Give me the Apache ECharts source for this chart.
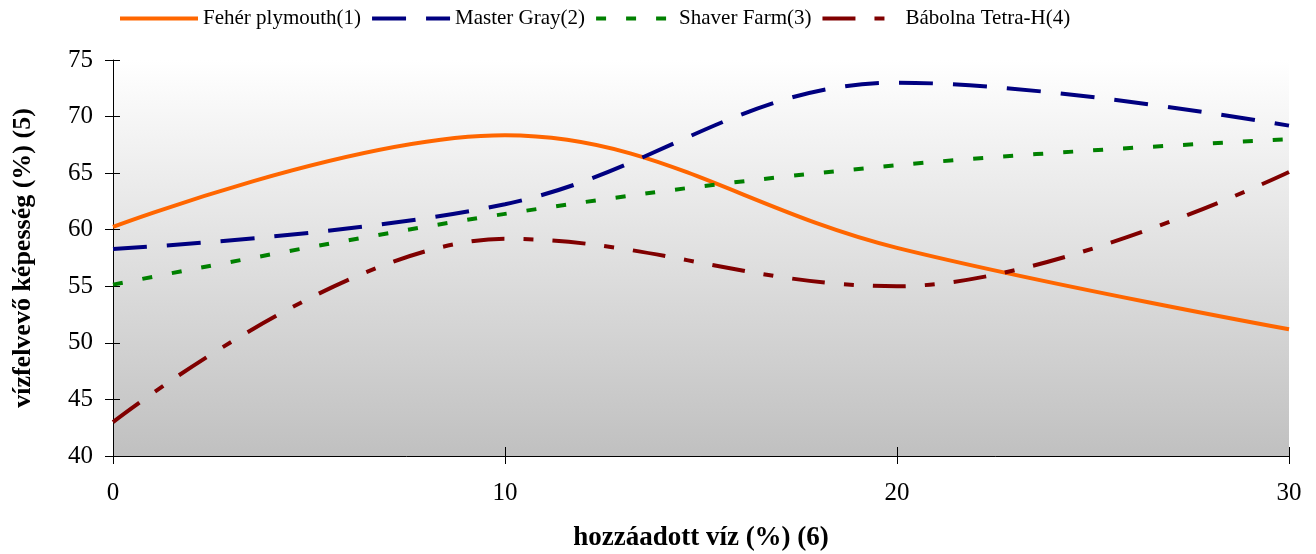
<!DOCTYPE html>
<html>
<head>
<meta charset="utf-8">
<script src="https://cdn.jsdelivr.net/npm/echarts@6/dist/echarts.min.js"></script>
<style>
html,body{margin:0;padding:0;background:#fff;}
#chart{width:1316px;height:554px;}
</style>
</head>
<body>
<div id="chart"></div>
<script>
const xValues = [0, 10, 20, 30];
const seriesNames = ['Fehér plymouth(1)', 'Master Gray(2)', 'Shaver Farm(3)', 'Bábolna Tetra-H(4)'];
const feherPlymouth = [60.25, 68.35, 58.4, 51.2];
const masterGray = [58.3, 62.25, 73.0, 69.2];
const shaverFarm = [55.15, 61.4, 65.7, 68.0];
const babolnaTetra = [43.0, 59.2, 55.0, 65.1];
const xTicks = [0, 10, 20, 30];
const yTicks = [40, 45, 50, 55, 60, 65, 70, 75];
const xTitle = 'hozzáadott víz (%) (6)';
const yTitle = 'vízfelvevő képesség (%) (5)';

const font = '"Liberation Serif", "Times New Roman", serif';
const pairs = v => xValues.map((x, i) => [x, v[i]]);

const styles = [
  {color: '#FF6600', type: 'solid'},
  {color: '#000080', type: [34, 20]},
  {color: '#008000', type: [10, 20]},
  {color: '#800000', type: [33, 19, 10, 19]}
];
const allData = [feherPlymouth, masterGray, shaverFarm, babolnaTetra];

const chart = echarts.init(document.getElementById('chart'), null, {renderer: 'canvas'});
chart.setOption({
  animation: false,
  textStyle: {fontFamily: font},
  legend: {
    left: 113, top: 3,
    itemWidth: 78, itemHeight: 14, itemGap: 9,
    textStyle: {fontFamily: font, fontSize: 21, color: '#000'},
    lineStyle: {width: 4},
    data: seriesNames
  },
  grid: {
    left: 113, right: 27, top: 60, bottom: 98,
    outerBoundsMode: 'none', containLabel: false,
    show: true, borderWidth: 0,
    backgroundColor: {type: 'linear', x: 0, y: 0, x2: 0, y2: 1,
      colorStops: [{offset: 0, color: '#ffffff'}, {offset: 1, color: '#c0c0c0'}]}
  },
  xAxis: [{
    type: 'value', min: xTicks[0], max: xTicks[xTicks.length - 1], interval: 10,
    name: xTitle, nameLocation: 'middle', nameGap: 69,
    nameTextStyle: {fontFamily: font, fontSize: 27, fontWeight: 'bold', color: '#000'},
    axisLine: {show: true, onZero: false, lineStyle: {color: '#000', width: 1}},
    axisTick: {show: true, inside: false, length: 8, lineStyle: {color: '#000'}},
    axisLabel: {fontFamily: font, fontSize: 25, color: '#000', margin: 25},
    splitLine: {show: false}
  }, {
    type: 'value', min: xTicks[0], max: xTicks[xTicks.length - 1], interval: 10, position: 'bottom',
    axisLine: {show: false},
    axisTick: {show: true, inside: true, length: 9, lineStyle: {color: '#000'}},
    axisLabel: {show: false}, splitLine: {show: false}
  }],
  yAxis: [{
    type: 'value', min: yTicks[0], max: yTicks[yTicks.length - 1], interval: 5,
    name: yTitle, nameLocation: 'middle', nameGap: 77, nameRotate: 90,
    nameTextStyle: {fontFamily: font, fontSize: 26, fontWeight: 'bold', color: '#000'},
    axisLine: {show: true, onZero: false, lineStyle: {color: '#000', width: 1}},
    axisTick: {show: true, inside: false, length: 8, lineStyle: {color: '#000'}},
    axisLabel: {fontFamily: font, fontSize: 25, color: '#000', margin: 20},
    splitLine: {show: false}
  }, {
    type: 'value', min: yTicks[0], max: yTicks[yTicks.length - 1], interval: 5, position: 'left',
    axisLine: {show: false},
    axisTick: {show: true, inside: true, length: 7, lineStyle: {color: '#000'}},
    axisLabel: {show: false}, splitLine: {show: false}
  }],
  series: seriesNames.map((name, i) => ({
    name, type: 'line', xAxisIndex: 0, yAxisIndex: 0,
    data: pairs(allData[i]),
    smooth: 0.38, showSymbol: false, symbol: 'circle',
    itemStyle: {color: styles[i].color, opacity: 0},
    lineStyle: {color: styles[i].color, width: 4, type: styles[i].type, cap: 'butt'}
  }))
});
</script>
</body>
</html>
